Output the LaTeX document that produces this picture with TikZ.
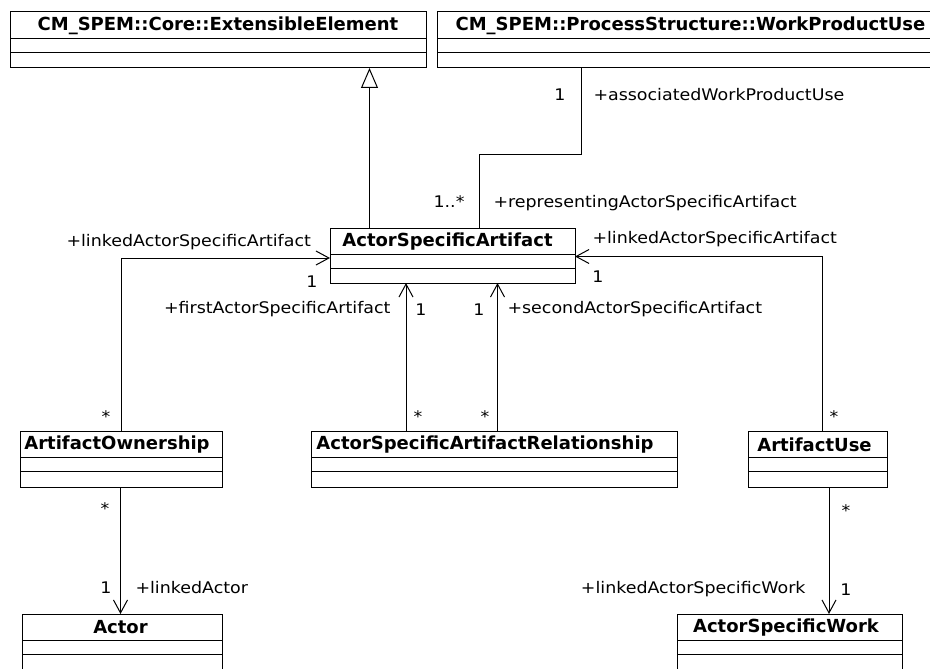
\documentclass[tikz,border=0pt]{standalone}
\usepackage{fontspec}
\setmainfont{DejaVu Sans}
\newfontfamily\lblfont{DejaVu Sans}[FakeStretch=1.09]
\usepackage{tikz}
\usetikzlibrary{arrows.meta, positioning, calc}

\begin{document}
\begin{tikzpicture}[x=1pt, y=-1pt, line width=1pt,
  classbox/.style={draw, anchor=north west, minimum height=56pt, inner sep=0pt, outer sep=0pt},
  ctitle/.style={font=\bfseries\fontsize{18}{20}\selectfont, inner sep=0pt},
  lbl/.style={font=\lblfont\fontsize{16}{18}\selectfont, inner sep=0pt},
  assoc/.style={-{Straight Barb[length=13pt, width=14pt]}},
  gen/.style={-{Triangle[open, length=20pt, width=17pt, fill=white]}}]
\useasboundingbox (0,0) rectangle (930,669);
\clip (0,0) rectangle (930,669);

% classes
\node[classbox, minimum width=416pt] (ext) at (10,12) {};
\node[classbox, minimum width=507pt] (wpu) at (437,12) {};
\node[classbox, minimum width=245pt, minimum height=55pt] (asa) at (330,228) {};
\node[classbox, minimum width=202pt] (own) at (20,431) {};
\node[classbox, minimum width=366pt] (rel) at (311,431) {};
\node[classbox, minimum width=139pt] (use) at (748,431) {};
\node[classbox, minimum width=200pt] (actor) at (22,614) {};
\node[classbox, minimum width=225pt] (asw) at (677,614) {};

\foreach \b/\t/\dx in {ext/{CM\_SPEM::Core::ExtensibleElement}/0,
    wpu/{CM\_SPEM::ProcessStructure::WorkProductUse}/0,
    asa/ActorSpecificArtifact/-5, own/ArtifactOwnership/-4,
    rel/ActorSpecificArtifactRelationship/-9, use/ArtifactUse/-3,
    actor/Actor/-1.5, asw/ActorSpecificWork/-3.5} {
  \node[ctitle] (\b-title) at ([xshift=\dx pt, yshift=-13.5pt]\b.north) {\t};
  \draw ([yshift=-26.5pt]\b.north west) -- ([yshift=-26.5pt]\b.north east);
  \draw ([yshift=-40.5pt]\b.north west) -- ([yshift=-40.5pt]\b.north east);
}

% connectors
\draw[gen] ([xshift=-83pt]asa.north) -- ([xshift=-83pt]asa.north |- ext.south);
\draw ([xshift=-109.5pt]wpu.south) -- ++(0,86.5) -| ([xshift=26.5pt]asa.north);
\draw[assoc] (own.north) |- ([yshift=-2.5pt]asa.west);
\draw[assoc] ([xshift=5pt]use.north) |- ([yshift=-1pt]asa.east);
\draw[assoc] ([xshift=-88pt]rel.north) -- ([xshift=-88pt]rel.north |- asa.south);
\draw[assoc] ([xshift=3.5pt]rel.north) -- ([xshift=3.5pt]rel.north |- asa.south);
\draw[assoc] ([xshift=-0.5pt]own.south) -- ([xshift=-0.5pt]own.south |- actor.north);
\draw[assoc] ([xshift=11.5pt]use.south) -- ([xshift=11.5pt]use.south |- asw.north);

% role names and multiplicities
\node[lbl, anchor=base] (m-wpu) at (560,100) {1};
\node[lbl, anchor=base west] (r-wpu) at (593,100) {+associatedWorkProductUse};
\node[lbl, anchor=base east] (m-rep) at (465,207) {1..*};
\node[lbl, anchor=base west] (r-rep) at (493,207) {+representingActorSpecificArtifact};
\node[lbl, anchor=base west] (r-own) at (66,246) {+linkedActorSpecificArtifact};
\node[lbl, anchor=base] (m-own) at (312,287) {1};
\node[lbl, anchor=base west] (r-use) at (592,243) {+linkedActorSpecificArtifact};
\node[lbl, anchor=base] (m-use) at (598,282) {1};
\node[lbl, anchor=base east] (r-first) at (391,313) {+firstActorSpecificArtifact};
\node[lbl, anchor=base] (m-first) at (421,315) {1};
\node[lbl, anchor=base] (m-second) at (479,315) {1};
\node[lbl, anchor=base west] (r-second) at (507,313) {+secondActorSpecificArtifact};
\node[lbl, anchor=base] (s-own) at (106,422) {*};
\node[lbl, anchor=base] (s-first) at (418,422) {*};
\node[lbl, anchor=base] (s-second) at (485,422) {*};
\node[lbl, anchor=base] (s-use) at (834,422) {*};
\node[lbl, anchor=base] (s-owna) at (105,514) {*};
\node[lbl, anchor=base] (m-actor) at (106,593) {1};
\node[lbl, anchor=base west] (r-actor) at (135,593) {+linkedActor};
\node[lbl, anchor=base] (s-usew) at (846,516) {*};
\node[lbl, anchor=base] (m-asw) at (846,595) {1};
\node[lbl, anchor=base east] (r-asw) at (806,593) {+linkedActorSpecificWork};
\end{tikzpicture}
\end{document}
